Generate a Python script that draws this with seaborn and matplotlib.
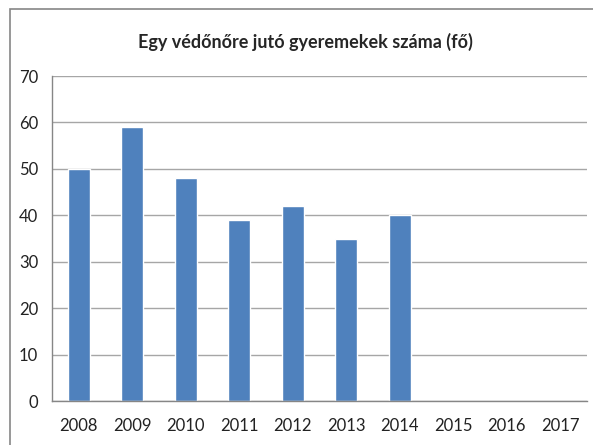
import numpy as np
import pandas as pd
import matplotlib
matplotlib.use('Agg')
import matplotlib.pyplot as plt
import seaborn as sns
from matplotlib.patches import Rectangle
from matplotlib.ticker import FixedLocator

# --- data ---
years = ['2008', '2009', '2010', '2011', '2012', '2013', '2014', '2015', '2016', '2017']
children = [50, 59, 48, 39, 42, 35, 40, np.nan, np.nan, np.nan]
TITLE = 'Egy védőnőre jutó gyeremekek száma (fő)'

df = pd.DataFrame({'year': years, 'children': children})

sns.set_style('white')
plt.rcParams['font.family'] = ['Lato', 'DejaVu Sans']

fig = plt.figure(figsize=(5.93, 4.45), dpi=100)
ax = fig.add_axes([52 / 593, 1 - 401 / 445, 535 / 593, 325 / 445])

sns.barplot(data=df, x='year', y='children', order=years, color='#4F81BD',
            width=0.41, saturation=1, ax=ax, errorbar=None)

ax.set_ylim(0, 70)
ax.set_xlim(-0.5, len(years) - 0.5)
ax.set_yticks(range(0, 71, 10))
ax.yaxis.grid(True, color='#A6A6A6', linewidth=1)
ax.set_axisbelow(True)
ax.set_xlabel('')
ax.set_ylabel('')

for side in ['top', 'right']:
    ax.spines[side].set_visible(False)
for side in ['left', 'bottom']:
    ax.spines[side].set_color('#868686')
    ax.spines[side].set_linewidth(1)

ax.xaxis.set_minor_locator(FixedLocator(np.arange(-0.5, len(years), 1)))
ax.tick_params(axis='x', which='major', length=0, pad=12, labelsize=12, colors='#222222')
ax.tick_params(axis='x', which='minor', length=5, color='#868686', direction='out')
ax.tick_params(axis='y', length=5, color='#868686', direction='out', pad=5,
               labelsize=12, labelcolor='#222222')

fig.text(305 / 593, 1 - 42 / 445, TITLE, ha='center', va='center',
         fontsize=13, fontweight='bold')

# outer chart border
fig.patches.append(Rectangle((10 / 593, -0.1), 1.1, 1 - 9 / 445 + 0.1,
                             transform=fig.transFigure, fill=False,
                             edgecolor='#868686', linewidth=1.2))

fig.savefig('out.png', dpi=100)
